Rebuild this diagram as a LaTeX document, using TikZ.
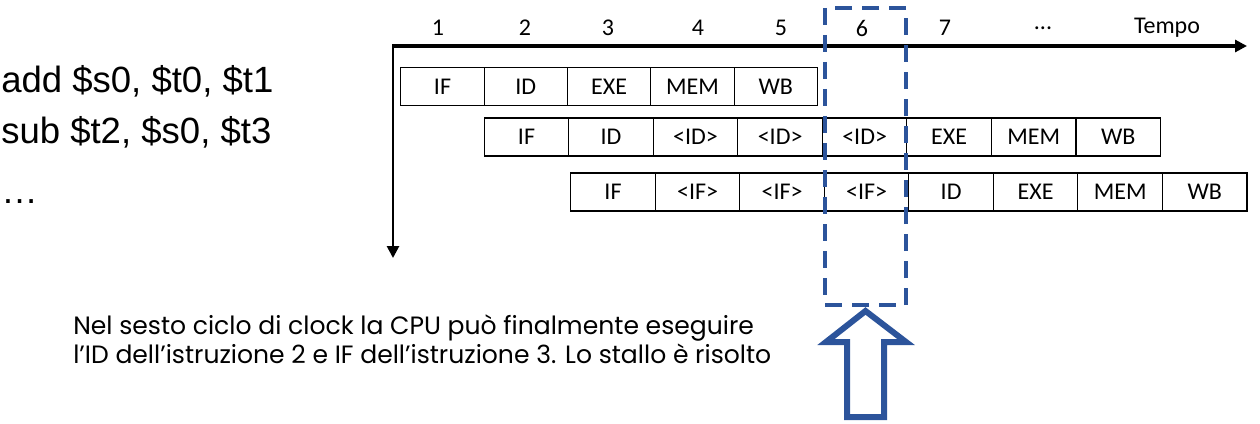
\documentclass[tikz,border=0pt]{standalone}
\usepackage{fontspec}
\setmainfont{Carlito}
\newfontfamily\codefont{Liberation Sans}
\newfontfamily\notefont{Poppins}
\usetikzlibrary{positioning,arrows.meta}
\definecolor{stallblue}{RGB}{44,84,155}
\tikzset{
  stage/.style={draw, line width=0.8pt, minimum width=63.4pt, minimum height=28.5pt,
    inner sep=0pt, outer sep=0pt, font=\fontsize{18}{20}\selectfont},
  cyclenum/.style={inner sep=0pt, font=\fontsize{18}{20}\selectfont},
  instr/.style={anchor=base west, inner sep=0pt, font=\codefont\fontsize{27.4}{30}\selectfont},
  noteline/.style={anchor=base west, inner sep=0pt, font=\notefont\fontsize{18.8}{22}\selectfont},
}

\begin{document}
\begin{tikzpicture}[x=0.75pt,y=-0.75pt]
      \useasboundingbox (0,0) rectangle (1260,424);

      % axes
      \coordinate (origin) at (393,46);
      \coordinate (tend) at (1247,46);
      \coordinate (vend) at (393,258);
      \draw[line width=3pt, -{Triangle[length=9pt,width=9pt]}] ([xshift=-0.75pt]origin) -- (tend);
      \draw[line width=2pt, -{Triangle[length=9pt,width=9pt]}] (origin) -- (vend);

      % clock cycles
      \node[cyclenum] (n1) at (438,28) {1};
      \node[cyclenum] (n2) at (525,28) {2};
      \node[cyclenum] (n3) at (608,28) {3};
      \node[cyclenum] (n4) at (698,28) {4};
      \node[cyclenum] (n5) at (781,28) {5};
      \node[cyclenum] (n6) at (862,28) {6};
      \node[cyclenum] (n7) at (945,28) {7};
      \node[cyclenum] (ndots) at (1043,28) {...};
      \node[cyclenum] (tempo) at (1167,28) {Tempo};

      % instructions
      \node[instr] (add) at (1,93) {add \$s0, \$t0, \$t1};
      \node[instr] (sub) at (1,144) {sub \$t2, \$s0, \$t3};
      \node[instr] (more) at (1,204) {…};

      % first instruction
      \node[stage, minimum width=62.5pt] (a1) at (442.5,86.5) {IF};
      \node[stage, minimum width=62.5pt, right=0pt of a1] (a2) {ID};
      \node[stage, minimum width=62.5pt, right=0pt of a2] (a3) {EXE};
      \node[stage, minimum width=62.5pt, right=0pt of a3] (a4) {MEM};
      \node[stage, minimum width=62.5pt, right=0pt of a4] (a5) {WB};

      % second instruction
      \node[stage] (b1) at (526.5,137) {IF};
      \node[stage, right=0pt of b1] (b2) {ID};
      \node[stage, right=0pt of b2] (b3) {<ID>};
      \node[stage, right=0pt of b3] (b4) {<ID>};
      \node[stage, right=0pt of b4] (b5) {<ID>};
      \node[stage, right=0pt of b5] (b6) {EXE};
      \node[stage, right=0pt of b6] (b7) {MEM};
      \node[stage, right=0pt of b7] (b8) {WB};

      % third instruction
      \node[stage] (c1) at (613,192) {IF};
      \node[stage, right=0pt of c1] (c2) {<IF>};
      \node[stage, right=0pt of c2] (c3) {<IF>};
      \node[stage, right=0pt of c3] (c4) {<IF>};
      \node[stage, right=0pt of c4] (c5) {ID};
      \node[stage, right=0pt of c5] (c6) {EXE};
      \node[stage, right=0pt of c6] (c7) {MEM};
      \node[stage, right=0pt of c7] (c8) {WB};

      % sixth cycle
      \node[draw=stallblue, line width=3pt, dash pattern=on 12.75pt off 7.5pt,
        minimum width=60.75pt, minimum height=222.75pt, inner sep=0pt] (stall) at (865.5,156.5) {};

      \coordinate (tip) at (865.5,311);
      \draw[stallblue, line width=4.5pt, line join=miter]
        (tip) -- (906,342) -- (884,342) -- (884,417) -- (847,417) -- (847,342) -- (826,342) -- cycle;

      \node[noteline] (note1) at (73,334) {Nel sesto ciclo di clock la CPU può finalmente eseguire};
      \node[noteline] (note2) at (73,363) {l’ID dell’istruzione 2 e IF dell’istruzione 3. Lo stallo è risolto};
\end{tikzpicture}
\end{document}
